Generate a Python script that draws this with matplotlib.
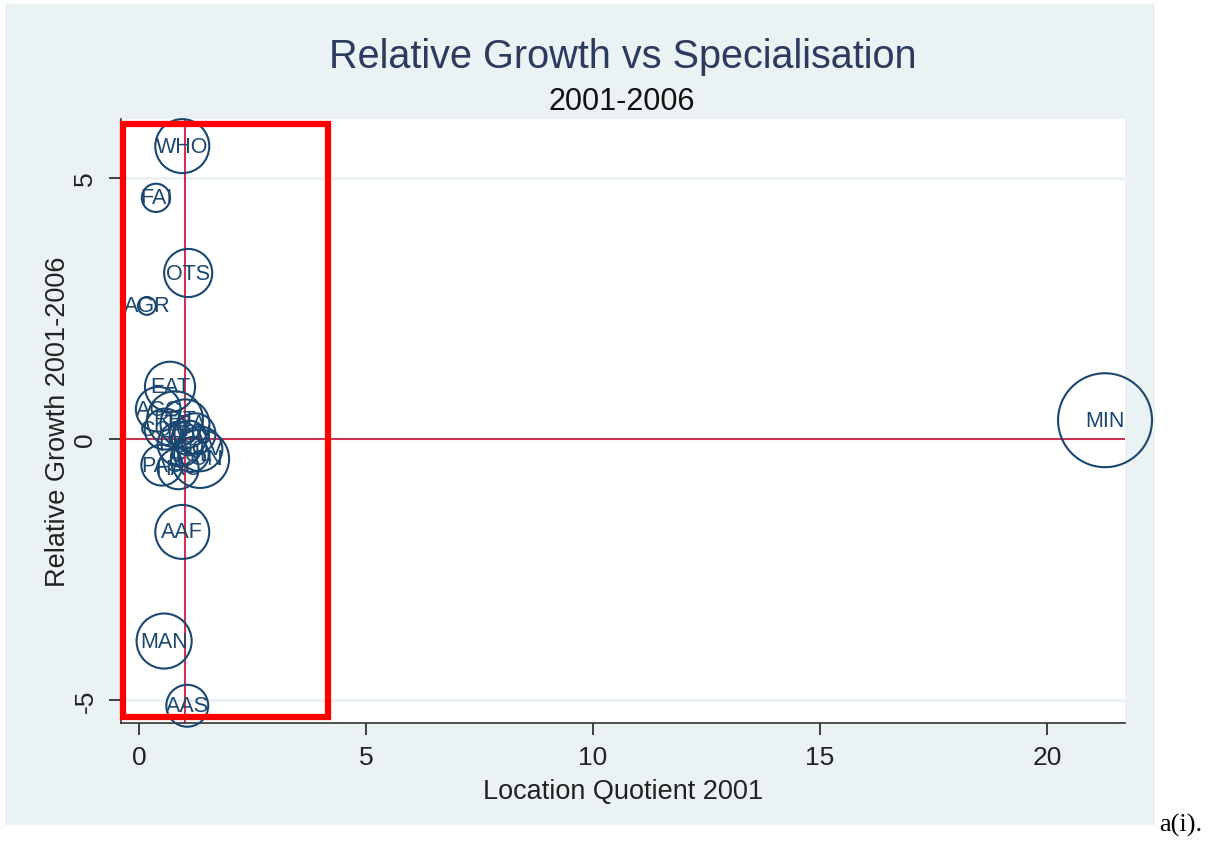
import matplotlib.pyplot as plt
from matplotlib.patches import Rectangle

# industry codes, location quotient 2001, relative growth 2001-2006, employment weight
industry = ['WHO', 'FAI', 'OTS', 'AGR', 'EAT', 'ACC', 'RET', 'TRA', 'COM', 'FIN',
            'PRP', 'GOV', 'EDU', 'CON', 'PAS', 'HAC', 'CUL', 'AAF', 'MAN', 'AAS', 'MIN']
lq_2001 = [0.95, 0.37, 1.08, 0.17, 0.68, 0.42, 0.79, 1.01, 0.57, 1.23,
           0.90, 1.34, 1.10, 1.34, 0.50, 0.86, 1.15, 0.95, 0.55, 1.06, 21.28]
rel_growth = [5.61, 4.62, 3.18, 2.55, 1.00, 0.57, 0.38, 0.29, 0.19, 0.10,
              -0.10, -0.19, 0.02, -0.38, -0.50, -0.57, -0.30, -1.78, -3.87, -5.11, 0.36]
weight = [7.3, 2.0, 5.8, 0.8, 6.3, 5.0, 7.8, 6.0, 4.2, 4.2,
          5.0, 5.0, 3.0, 8.5, 4.2, 4.2, 3.0, 7.3, 7.6, 4.4, 22.1]

navy = '#1a476f'
bg = '#eaf2f3'
plt.rcParams['font.family'] = ['Liberation Sans', 'DejaVu Sans']
plt.rcParams['axes.unicode_minus'] = False

fig = plt.figure(figsize=(12.08, 8.45), dpi=100)
W, H = 1208, 845

# graph region background
fig.patches.append(Rectangle((5 / W, 1 - 826 / H), 1150 / W, 821 / H,
                             transform=fig.transFigure, facecolor=bg,
                             edgecolor='none', zorder=-1))

ax = fig.add_axes([121 / W, 121 / H, 1004 / W, 604 / H])
ax.set_zorder(1)
ax.set_facecolor('white')
ax.set_xlim(-0.40, 21.72)
ax.set_ylim(-5.44, 6.13)

for s in ['top', 'right']:
    ax.spines[s].set_visible(False)
for s in ['left', 'bottom']:
    ax.spines[s].set_color('#333333')
    ax.spines[s].set_linewidth(1.2)

ax.set_xticks([0, 5, 10, 15, 20])
ax.set_yticks([-5, 0, 5])
ax.tick_params(axis='both', labelsize=19, colors='#222222', length=8.5, width=1.2)
ax.tick_params(axis='x', pad=7)
ax.tick_params(axis='y', pad=8.5)
plt.setp(ax.get_yticklabels(), rotation=90, va='center')

for yv in [-5, 5]:
    ax.axhline(yv, color=bg, lw=2, zorder=1)

ax.axhline(0, color='#cc3355', lw=1.5, zorder=2)
ax.axvline(1, color='#cc3355', lw=1.5, zorder=2)

sizes = [w * 207 for w in weight]
ax.scatter(lq_2001, rel_growth, s=sizes, facecolors='none', edgecolors=navy,
           linewidths=1.5, zorder=3, clip_on=False)
for name, xv, yv in zip(industry, lq_2001, rel_growth):
    ax.text(xv, yv, name, ha='center', va='center', fontsize=15.5,
            color=navy, zorder=4)

ax.set_xlabel('Location Quotient 2001', fontsize=19.5, color='#222222', labelpad=7)
ax.set_ylabel('Relative Growth 2001-2006', fontsize=19.5, color='#222222', labelpad=2)

fig.text(623 / W, 1 - 57 / H, 'Relative Growth vs Specialisation', ha='center',
         va='center', fontsize=28.5, color='#2b3a5e')
fig.text(622 / W, 1 - 102 / H, '2001-2006', ha='center', va='center',
         fontsize=22, color='#111111')

# highlighted cluster
fig.patches.append(Rectangle((123 / W, 1 - 718 / H), 205 / W, 593 / H,
                             transform=fig.transFigure, facecolor='none',
                             edgecolor='#ff0000', lw=4.5, zorder=10))

fig.text(1159 / W, 1 - 825 / H, 'a(i).', ha='left', va='center', fontsize=19,
         family='Liberation Serif', color='black')

fig.savefig('out.png', dpi=100)
